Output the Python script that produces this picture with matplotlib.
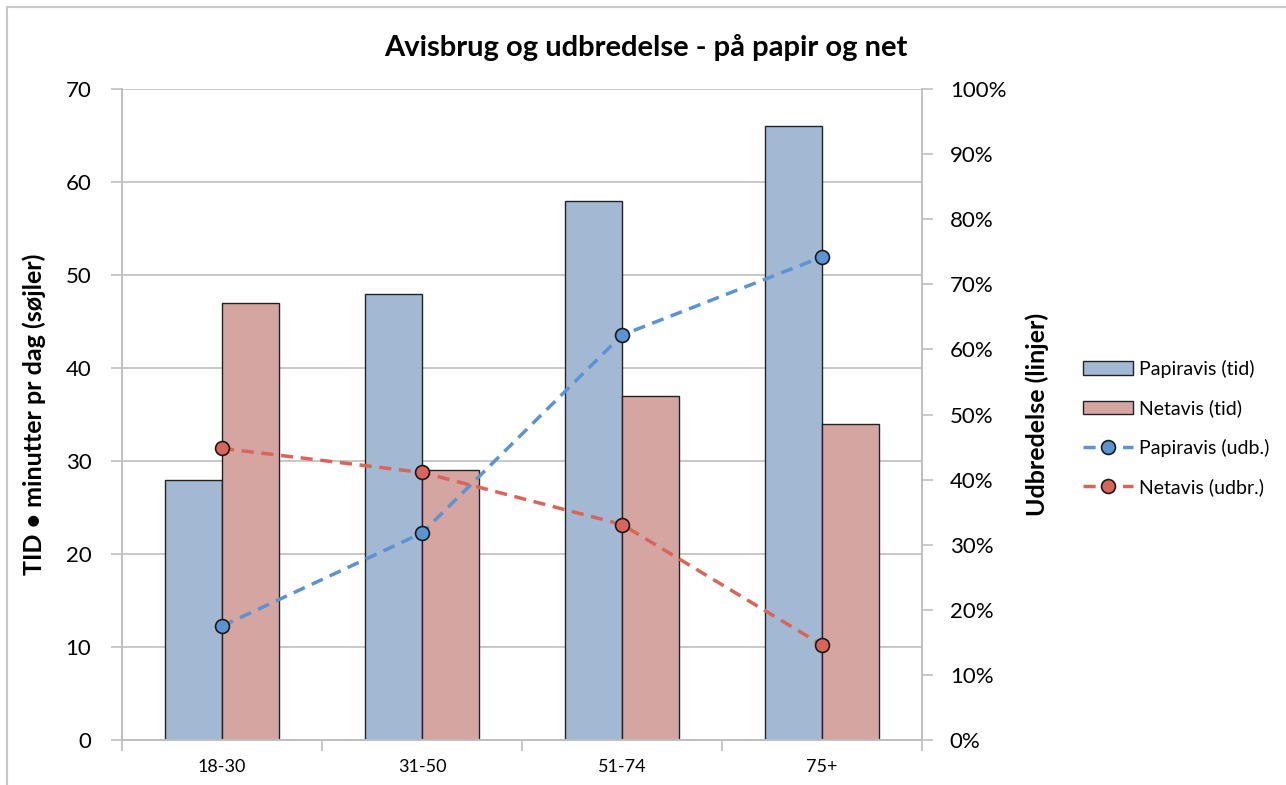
import matplotlib.pyplot as plt
import numpy as np
from matplotlib.patches import Rectangle
from matplotlib.ticker import FuncFormatter

plt.rcParams['font.family'] = ['Lato', 'DejaVu Sans']

# data
kategorier = ['18-30', '31-50', '51-74', '75+']
papir_tid = [28, 48, 58, 66]
net_tid = [47, 29, 37, 34]
papir_udb = [0.175, 0.318, 0.622, 0.742]
net_udb = [0.448, 0.411, 0.331, 0.146]

blaa_bar = '#A3B9D3'
roed_bar = '#D4A5A1'
blaa_linje = '#5B93D3'
roed_linje = '#D9655A'
graa = '#BFBFBF'

fig = plt.figure(figsize=(12.86, 7.85), dpi=100)
ax = fig.add_axes([122 / 1286, 1 - 740 / 785, 800 / 1286, 651 / 785])
ax2 = ax.twinx()

x = np.arange(len(kategorier))
w = 0.284
ax.bar(x - w / 2, papir_tid, w, color=blaa_bar, edgecolor='#222222', linewidth=1,
       label='Papiravis (tid)', zorder=2)
ax.bar(x + w / 2, net_tid, w, color=roed_bar, edgecolor='#222222', linewidth=1,
       label='Netavis (tid)', zorder=2)

ax2.plot(x, papir_udb, '--o', color=blaa_linje, lw=2.5, dashes=(3.5, 2.2),
         markersize=10, markerfacecolor=blaa_linje, markeredgecolor='#1a1a1a',
         markeredgewidth=1.2, label='Papiravis (udb.)', zorder=3)
ax2.plot(x, net_udb, '--o', color=roed_linje, lw=2.5, dashes=(3.5, 2.2),
         markersize=10, markerfacecolor=roed_linje, markeredgecolor='#1a1a1a',
         markeredgewidth=1.2, label='Netavis (udbr.)', zorder=3)

# venstre akse
ax.set_xlim(-0.5, 3.5)
ax.set_ylim(0, 70)
ax.set_yticks(range(0, 71, 10))
ax.yaxis.grid(True, color=graa, lw=1.2, zorder=0)
ax.set_axisbelow(True)
ax.set_xticks(x)
ax.set_xticklabels(kategorier, fontsize=13)
ax.set_xticks(np.arange(-0.5, 4, 1), minor=True)
ax.tick_params(axis='x', which='major', length=0, pad=14)
ax.tick_params(axis='x', which='minor', length=8, width=1.2, color=graa, direction='out')
ax.tick_params(axis='y', length=8, width=1.2, color=graa, labelsize=16, pad=14)
ax.set_ylabel('TID • minutter pr dag (søjler)', fontsize=18, fontweight='bold', labelpad=14)

# højre akse
ax2.set_ylim(0, 1.0)
ax2.set_yticks(np.arange(0, 1.01, 0.1))
ax2.yaxis.set_major_formatter(FuncFormatter(lambda v, p: f'{v * 100:.0f}%'))
ax2.tick_params(axis='y', length=8, width=1.2, color=graa, labelsize=16, pad=12)
ax2.set_ylabel('Udbredelse (linjer)', fontsize=18, fontweight='bold', labelpad=14)

for a in (ax, ax2):
    for side in ('left', 'right', 'bottom'):
        a.spines[side].set_color(graa)
        a.spines[side].set_linewidth(1.2)
    a.spines['top'].set_visible(False)

fig.text(0.502, 0.94, 'Avisbrug og udbredelse - på papir og net',
         ha='center', va='center', fontsize=21, fontweight='bold')

h1, l1 = ax.get_legend_handles_labels()
h2, l2 = ax2.get_legend_handles_labels()
fig.legend(h1 + h2, l1 + l2, loc='center left', bbox_to_anchor=(1075 / 1286, 1 - 428 / 785),
           frameon=False, fontsize=14, handlelength=2.6, handletextpad=0.3,
           labelspacing=1.1, borderaxespad=0)

# ramme om figuren
fig.patches.append(Rectangle((7 / 1286, -0.1), 1.2, 1.1 - 7 / 785, transform=fig.transFigure,
                             fill=False, edgecolor='#C8C8C8', lw=1.5))

fig.savefig('out.png', dpi=100)
